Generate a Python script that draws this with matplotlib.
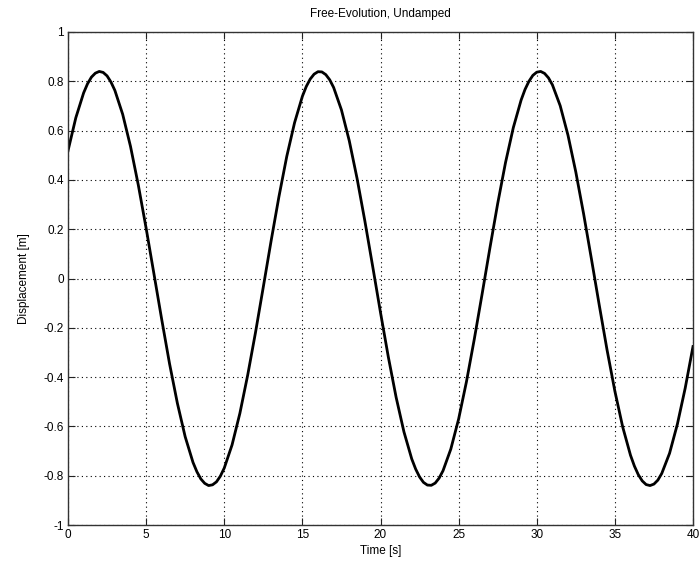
import matplotlib
matplotlib.use("Agg")
import matplotlib.pyplot as plt

# Time samples [s] and displacement [m]
time_s = [
    0, 0.5, 1, 1.25, 1.5, 1.75, 2, 2.25, 2.5, 2.75, 3, 3.5, 4, 4.5,
    5, 5.5, 6, 6.5, 7, 7.5, 8, 8.25, 8.5, 8.75, 9, 9.25, 9.5, 9.75,
    10, 10.5, 11, 11.5, 12, 12.5, 13, 13.5, 14, 14.5, 15, 15.25, 15.5, 15.75,
    16, 16.25, 16.5, 16.75, 17, 17.5, 18, 18.5, 19, 19.5, 20, 20.5, 21, 21.5,
    22, 22.25, 22.5, 22.75, 23, 23.25, 23.5, 23.75, 24, 24.5, 25, 25.5, 26, 26.5,
    27, 27.5, 28, 28.5, 29, 29.25, 29.5, 29.75, 30, 30.25, 30.5, 30.75, 31, 31.5,
    32, 32.5, 33, 33.5, 34, 34.5, 35, 35.5, 36, 36.25, 36.5, 36.75, 37, 37.25,
    37.5, 37.75, 38, 38.5, 39, 39.5, 40,
]
displacement = [
    0.518, 0.652, 0.753, 0.790, 0.817, 0.833, 0.840, 0.836, 0.822, 0.797, 0.763, 0.666, 0.536, 0.379,
    0.204, 0.019, -0.167, -0.346, -0.506, -0.642, -0.746, -0.784, -0.813, -0.831, -0.840, -0.837, -0.825, -0.802,
    -0.769, -0.675, -0.547, -0.392, -0.219, -0.034, 0.153, 0.332, 0.495, 0.632, 0.739, 0.779, 0.809, 0.829,
    0.839, 0.838, 0.827, 0.806, 0.775, 0.684, 0.559, 0.406, 0.233, 0.049, -0.138, -0.318, -0.482, -0.622,
    -0.732, -0.773, -0.805, -0.827, -0.838, -0.839, -0.830, -0.810, -0.780, -0.692, -0.570, -0.419, -0.247, -0.064,
    0.123, 0.304, 0.470, 0.612, 0.724, 0.767, 0.800, 0.824, 0.837, 0.840, 0.832, 0.814, 0.786, 0.701,
    0.581, 0.432, 0.262, 0.079, -0.108, -0.290, -0.457, -0.602, -0.717, -0.761, -0.796, -0.821, -0.836, -0.840,
    -0.834, -0.818, -0.791, -0.709, -0.591, -0.445, -0.276,
]
x_ticks = [0, 5, 10, 15, 20, 25, 30, 35, 40]
y_ticks = [-1, -0.8, -0.6, -0.4, -0.2, 0, 0.2, 0.4, 0.6, 0.8, 1]
y_tick_labels = ["-1", "-0.8", "-0.6", "-0.4", "-0.2", "0", "0.2", "0.4", "0.6", "0.8", "1"]

plt.rcParams['font.family'] = ['Liberation Sans', 'DejaVu Sans']

fig = plt.figure(figsize=(6.99, 5.70), dpi=100)
ax = fig.add_axes([68/699, 1 - 525/570, (693 - 68)/699, (525 - 32)/570])

ax.plot(time_s, displacement, color='black', linewidth=2.0, solid_joinstyle='round')

ax.set_xlim(0, 40)
ax.set_ylim(-1, 1)
ax.set_xticks(x_ticks)
ax.set_xticklabels([str(t) for t in x_ticks])
ax.set_yticks(y_ticks)
ax.set_yticklabels(y_tick_labels)

ax.grid(True, color='black', linestyle=(0, (1, 3)), linewidth=0.8)
ax.tick_params(direction='in', length=5, width=0.8, labelsize=8.5,
               top=True, right=True, colors='#222222', labelcolor='black', pad=3)
for s in ax.spines.values():
    s.set_color('#333333')
    s.set_linewidth(1.0)

ax.set_title("Free-Evolution, Undamped", fontsize=8.5, pad=11)
ax.set_xlabel("Time [s]", fontsize=8.5, labelpad=3)
ax.set_ylabel("Displacement [m]", fontsize=8.5, labelpad=10)

fig.savefig("out.png", dpi=100, facecolor='white')
